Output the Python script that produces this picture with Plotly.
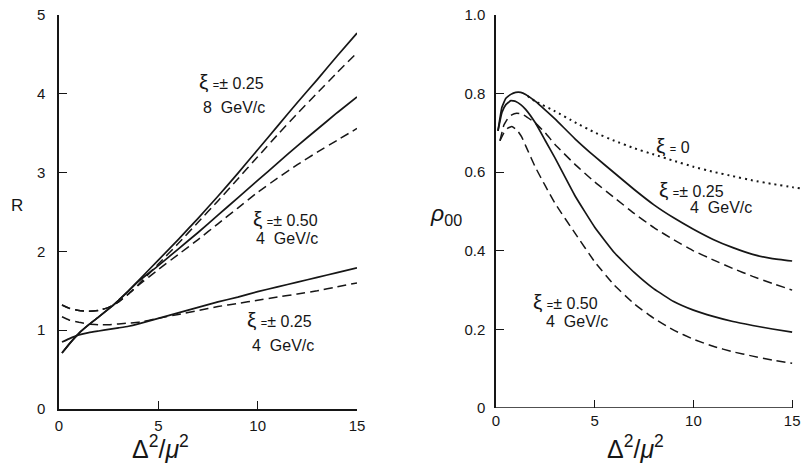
import plotly.graph_objects as go

# ---------------- left panel: R versus Delta^2/mu^2 ----------------
r_x = [0.15, 0.5, 1, 1.5, 2, 2.5, 3, 3.5, 4, 5, 6, 7, 8, 9, 10, 11, 12, 13, 14, 15]

r_8gev_solid = [0.71, 0.82, 0.96, 1.07, 1.17, 1.27, 1.38, 1.50, 1.63, 1.89, 2.15, 2.42,
                2.70, 2.99, 3.29, 3.59, 3.89, 4.18, 4.48, 4.77]
r_8gev_dash = [1.32, 1.28, 1.25, 1.24, 1.25, 1.29, 1.36, 1.46, 1.58, 1.84, 2.10, 2.37,
               2.64, 2.92, 3.20, 3.48, 3.75, 4.01, 4.27, 4.52]
r_050_solid = [0.71, 0.82, 0.96, 1.07, 1.17, 1.27, 1.38, 1.50, 1.62, 1.82, 2.03, 2.24,
               2.46, 2.68, 2.90, 3.12, 3.34, 3.55, 3.76, 3.96]
r_050_dash = [1.32, 1.28, 1.25, 1.24, 1.25, 1.29, 1.36, 1.46, 1.57, 1.77, 1.96, 2.15,
              2.35, 2.55, 2.75, 2.93, 3.10, 3.26, 3.41, 3.56]
r_025_solid = [0.85, 0.89, 0.94, 0.97, 0.99, 1.01, 1.03, 1.05, 1.08, 1.15, 1.22, 1.29,
               1.36, 1.42, 1.49, 1.55, 1.61, 1.67, 1.73, 1.79]
r_025_dash = [1.17, 1.13, 1.10, 1.08, 1.07, 1.07, 1.08, 1.09, 1.10, 1.15, 1.20, 1.25,
              1.30, 1.34, 1.38, 1.42, 1.46, 1.50, 1.55, 1.60]

# ---------------- right panel: rho_00 versus Delta^2/mu^2 ----------------
rho_x = [0.1, 0.3, 0.5, 0.75, 1.0, 1.25, 1.5, 2, 2.5, 3, 4, 5, 6, 7, 8, 9, 10, 11, 12, 13, 14, 15]
rho_025_solid = [0.705, 0.765, 0.788, 0.798, 0.803, 0.803, 0.798, 0.780, 0.758, 0.735, 0.685,
                 0.640, 0.598, 0.556, 0.517, 0.484, 0.455, 0.429, 0.408, 0.391, 0.380, 0.374]
rho_050_solid = [0.705, 0.752, 0.772, 0.782, 0.780, 0.772, 0.760, 0.725, 0.680, 0.635, 0.540,
                 0.460, 0.395, 0.345, 0.303, 0.271, 0.249, 0.233, 0.220, 0.210, 0.201, 0.193]

rho_dash_x = [0.2, 0.4, 0.6, 0.8, 1.05, 1.3, 1.55, 2, 2.5, 3, 4, 5, 6, 7, 8, 9, 10, 11, 12, 13, 14, 15]
rho_025_dash = [0.680, 0.720, 0.737, 0.746, 0.750, 0.748, 0.741, 0.725, 0.700, 0.670, 0.620,
                0.575, 0.535, 0.495, 0.459, 0.428, 0.400, 0.377, 0.355, 0.335, 0.317, 0.300]
rho_050_dash = [0.680, 0.700, 0.712, 0.716, 0.708, 0.690, 0.662, 0.612, 0.565, 0.520, 0.445,
                0.372, 0.312, 0.265, 0.228, 0.198, 0.175, 0.157, 0.143, 0.132, 0.122, 0.114]

rho_dot_x = [1.6, 2, 3, 4, 5, 6, 7, 8, 9, 10, 11, 12, 13, 14, 15, 15.5]
rho_xi0 = [0.794, 0.780, 0.755, 0.727, 0.701, 0.680, 0.661, 0.645, 0.629, 0.614, 0.601,
           0.590, 0.579, 0.570, 0.562, 0.558]

x_ticks = [0, 5, 10, 15]
r_ticks = [0, 1, 2, 3, 4, 5]
rho_ticks = [0, 0.2, 0.4, 0.6, 0.8, 1.0]
rho_ticktext = ["0", "0.2", "0.4", "0.6", "0.8", "1.0"]

INK = "#161616"
FONT = "Liberation Sans"
DASH = "9px,5px"

fig = go.Figure()


def curve(x, y, xa, ya, dash="solid", width=1.7):
    fig.add_trace(go.Scatter(
        x=x, y=y, xaxis=xa, yaxis=ya, mode="lines",
        line=dict(color=INK, width=width, dash=dash, shape="spline", smoothing=0.35),
        hoverinfo="skip", showlegend=False))


# left panel curves
curve(r_x, r_8gev_solid, "x", "y")
curve(r_x, r_8gev_dash, "x", "y", DASH, 1.5)
curve(r_x, r_050_solid, "x", "y")
curve(r_x, r_050_dash, "x", "y", DASH, 1.5)
curve(r_x, r_025_solid, "x", "y")
curve(r_x, r_025_dash, "x", "y", DASH, 1.5)

# right panel curves
curve(rho_x, rho_025_solid, "x2", "y2")
curve(rho_x, rho_050_solid, "x2", "y2")
curve(rho_dash_x, rho_025_dash, "x2", "y2", DASH, 1.5)
curve(rho_dash_x, rho_050_dash, "x2", "y2", DASH, 1.5)
curve(rho_dot_x, rho_xi0, "x2", "y2", "2px,4px", 2)

W, H = 802, 463

axis_common = dict(
    showgrid=False, zeroline=False, automargin=False,
    ticks="inside", ticklen=8, tickwidth=1.3,
    tickcolor=INK, linecolor=INK, linewidth=1.5,
    tickfont=dict(family=FONT, size=15, color=INK),
)

fig.update_layout(
    width=W, height=H,
    margin=dict(l=0, r=0, t=0, b=0, autoexpand=False),
    paper_bgcolor="white", plot_bgcolor="white",
    font=dict(family=FONT, color=INK),
    xaxis=dict(domain=[59 / W, 357 / W], range=[0, 15], tickvals=x_ticks,
               showline=True, anchor="y", ticklabelstandoff=2, **axis_common),
    yaxis=dict(domain=[54 / H, 448 / H], range=[0, 5], tickvals=r_ticks,
               showline=True, anchor="x", ticklabelstandoff=9, **axis_common),
    xaxis2=dict(domain=[496 / W, 1.0], range=[0, 15.5], tickvals=x_ticks,
                showline=False, anchor="y2", ticklabelstandoff=2, **axis_common),
    yaxis2=dict(domain=[55 / H, 448 / H], range=[0, 1.0], tickvals=rho_ticks,
                ticktext=rho_ticktext, showline=True, anchor="x2",
                ticklabelstandoff=6, **axis_common),
)

# bottom axis line of the right panel stops at 15
fig.add_shape(type="line", xref="x2", yref="y2", x0=0, x1=15, y0=0, y1=0,
              line=dict(color=INK, width=1.5))


def xi_label(value):
    return ("<span style='font-size:21px'>ξ</span> "
            "<span style='font-size:11px'>=</span>" + value)


labels = [
    ("x", "y", 8.7, 4.15, xi_label("± 0.25")),
    ("x", "y", 8.8, 3.82, "8  GeV/c"),
    ("x", "y", 11.4, 2.42, xi_label("± 0.50")),
    ("x", "y", 11.5, 2.17, "4  GeV/c"),
    ("x", "y", 11.1, 1.13, xi_label("± 0.25")),
    ("x", "y", 11.3, 0.81, "4  GeV/c"),
    ("x2", "y2", 8.95, 0.669, xi_label(" 0")),
    ("x2", "y2", 9.9, 0.555, xi_label("± 0.25")),
    ("x2", "y2", 11.4, 0.511, "4  GeV/c"),
    ("x2", "y2", 3.5, 0.27, xi_label("± 0.50")),
    ("x2", "y2", 4.1, 0.219, "4  GeV/c"),
]
for xr, yr, x, y, t in labels:
    fig.add_annotation(xref=xr, yref=yr, x=x, y=y, text=t, showarrow=False,
                       xanchor="center", yanchor="middle",
                       font=dict(family=FONT, size=16, color=INK))

# axis titles
fig.add_annotation(xref="paper", yref="paper", x=17 / W, y=1 - 205 / H, text="R",
                   xanchor="center", yanchor="middle", showarrow=False,
                   font=dict(family=FONT, size=17, color=INK))
fig.add_annotation(xref="paper", yref="paper", x=446 / W, y=1 - 214 / H,
                   text="<i>ρ</i><sub>00</sub>", xanchor="center", yanchor="middle",
                   showarrow=False, font=dict(family=FONT, size=23, color=INK))
for cx in (160, 635):
    fig.add_annotation(xref="paper", yref="paper", x=cx / W, y=-2 / H,
                       xanchor="center", yanchor="bottom",
                       text="Δ<sup>2</sup>/<i>μ</i><sup>2</sup>", showarrow=False,
                       font=dict(family=FONT, size=25, color=INK))

fig.write_html("out.html")
